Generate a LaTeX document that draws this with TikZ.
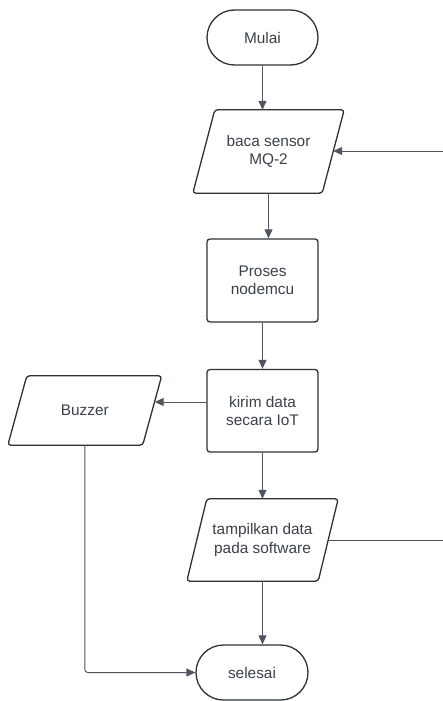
\documentclass[tikz,border=0pt]{standalone}
\usepackage{fontspec}
\setmainfont{Liberation Sans}
\usetikzlibrary{arrows.meta,calc}
\definecolor{ln}{RGB}{80,86,96}
\definecolor{bd}{RGB}{45,50,56}
\definecolor{tx}{RGB}{58,65,74}
\newcommand\drawpara[2]{\draw[bd,line width=1.3pt,rounded corners=3pt] ($(#1.north west)+(#2,0)$) -- ($(#1.north east)+(#2,0)$) -- ($(#1.south east)-(#2,0)$) -- ($(#1.south west)-(#2,0)$) -- cycle;}
\begin{document}
\begin{tikzpicture}[x=1pt,y=-1pt,
  txt/.style={text=tx,font=\fontsize{15.4}{18.5}\selectfont,align=center,inner sep=0pt},
  term/.style={txt,draw=bd,line width=1.3pt,rectangle,rounded corners=27.5pt,minimum width=111pt,minimum height=55pt},
  proc/.style={txt,draw=bd,line width=1.3pt,rectangle,rounded corners=3pt,minimum width=111pt,minimum height=83pt},
  io/.style={txt,rectangle},
  conn/.style={draw=ln,line width=1pt},
  arr/.style={conn,-{Triangle[length=9pt,width=8pt]}}
]
\useasboundingbox[fill=white] (0,0) rectangle (443,701);

\node[term] (mulai) at (262.5,37.5) {Mulai};
\node[io,minimum width=129pt,minimum height=83pt] (baca) at (268.5,151.5) {baca sensor\\MQ-2};
\node[proc] (proses) at (262.5,280.5) {Proses\\nodemcu};
\node[proc,minimum height=82.5pt] (kirim) at (262.5,410.75) {kirim data\\secara IoT};
\node[io,minimum width=134.5pt,minimum height=69pt] (buzzer) at (84.75,410.5) {Buzzer};
\node[io,minimum width=131pt,minimum height=82pt] (tampil) at (262.5,540) {tampilkan data\\pada software};
\node[term,minimum width=112pt] (selesai) at (252,672.5) {selesai};

\drawpara{baca}{11}
\drawpara{buzzer}{9.5}
\drawpara{tampil}{10}

\coordinate (eastA) at (443,151);
\coordinate (eastB) at (443,540);
\coordinate (kb) at ([yshift=8.75pt]kirim.west);

\draw[arr] (mulai.south) -- (mulai.south |- baca.north);
\draw[arr] (eastA) -- (eastA -| baca.east);
\draw[arr] (baca.south) -- (baca.south |- proses.north);
\draw[arr] (proses) -- (kirim);
\draw[arr] (kb) -- ([xshift=2.5pt]kb -| buzzer.east);
\draw[arr] (kirim) -- (tampil);
\draw[arr] (tampil.south) -- (tampil.south |- selesai.north);
\draw[arr,rounded corners=3pt] (buzzer.south) |- (selesai.west);
\draw[conn] (tampil.east) -- (eastB);
\end{tikzpicture}
\end{document}
